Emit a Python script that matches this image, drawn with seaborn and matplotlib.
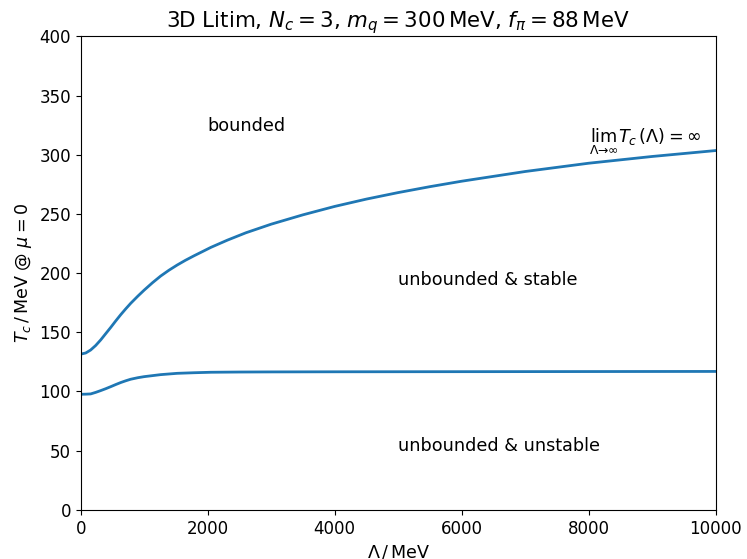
import matplotlib
matplotlib.use("Agg")
import matplotlib.pyplot as plt
import seaborn as sns
import pandas as pd

lam_upper = [0, 80, 157, 236, 315, 394, 472, 551, 630, 710, 787, 900, 1000, 1130, 1260, 1390, 1520, 1650, 1785, 1920, 2050, 2310,
             2600, 3000, 3500, 4000, 4500, 5000, 5500, 6000, 7000, 8000, 9000, 10000]
tc_upper = [131.5, 132.5, 135, 138.8, 143.5, 148.8, 154, 159.5, 164.8, 169.8, 174.4, 180.5, 185.6, 191.8, 197.5, 202.4, 206.8, 210.8,
            214.6, 218.2, 221.7, 227.8, 234, 241.3, 249.2, 256.3, 262.5, 268, 273, 277.6, 285.8, 292.8, 298.5, 303.5]

lam_lower = [0, 80, 157, 236, 315, 394, 472, 551, 630, 710, 787, 900, 1000, 1260, 1520, 1785, 2050, 2500, 3000, 4000, 6000, 8000, 10000]
tc_lower = [97.6, 97.7, 97.9, 99.2, 100.7, 102.3, 104, 105.8, 107.5, 109, 110.3, 111.6, 112.5, 114.2, 115.3, 115.8, 116.2, 116.4,
            116.5, 116.6, 116.7, 116.8, 116.9]

plt.rcParams['font.size'] = 12

fig, ax = plt.subplots(figsize=(7.47, 5.59), dpi=100)
df_u = pd.DataFrame({"x": lam_upper, "y": tc_upper})
df_l = pd.DataFrame({"x": lam_lower, "y": tc_lower})
sns.lineplot(data=df_u, x="x", y="y", ax=ax, color="#1f77b4", linewidth=2)
sns.lineplot(data=df_l, x="x", y="y", ax=ax, color="#1f77b4", linewidth=2)

ax.set_xlim(0, 10000)
ax.set_ylim(0, 400)
ax.set_xlabel(r"$\Lambda\,/\,\mathrm{MeV}$", fontsize=12.6)
ax.set_ylabel(r"$T_c\,/\,\mathrm{MeV}$ @ $\mu=0$", fontsize=12.6)
ax.set_title(r"3D Litim, $N_c=3$, $m_q=300\,\mathrm{MeV}$, $f_\pi=88\,\mathrm{MeV}$", fontsize=15.4)

ax.text(2000, 320, "bounded", fontsize=12.7)
ax.text(5000, 190, "unbounded & stable", fontsize=12.7)
ax.text(5000, 50, "unbounded & unstable", fontsize=12.7)
ax.text(8000, 310, r"$\lim_{\Lambda\to\infty} T_c(\Lambda) = \infty$", fontsize=12.7)

fig.subplots_adjust(left=0.108, right=0.958, top=0.935, bottom=0.088)
fig.savefig("out.png", dpi=100)
